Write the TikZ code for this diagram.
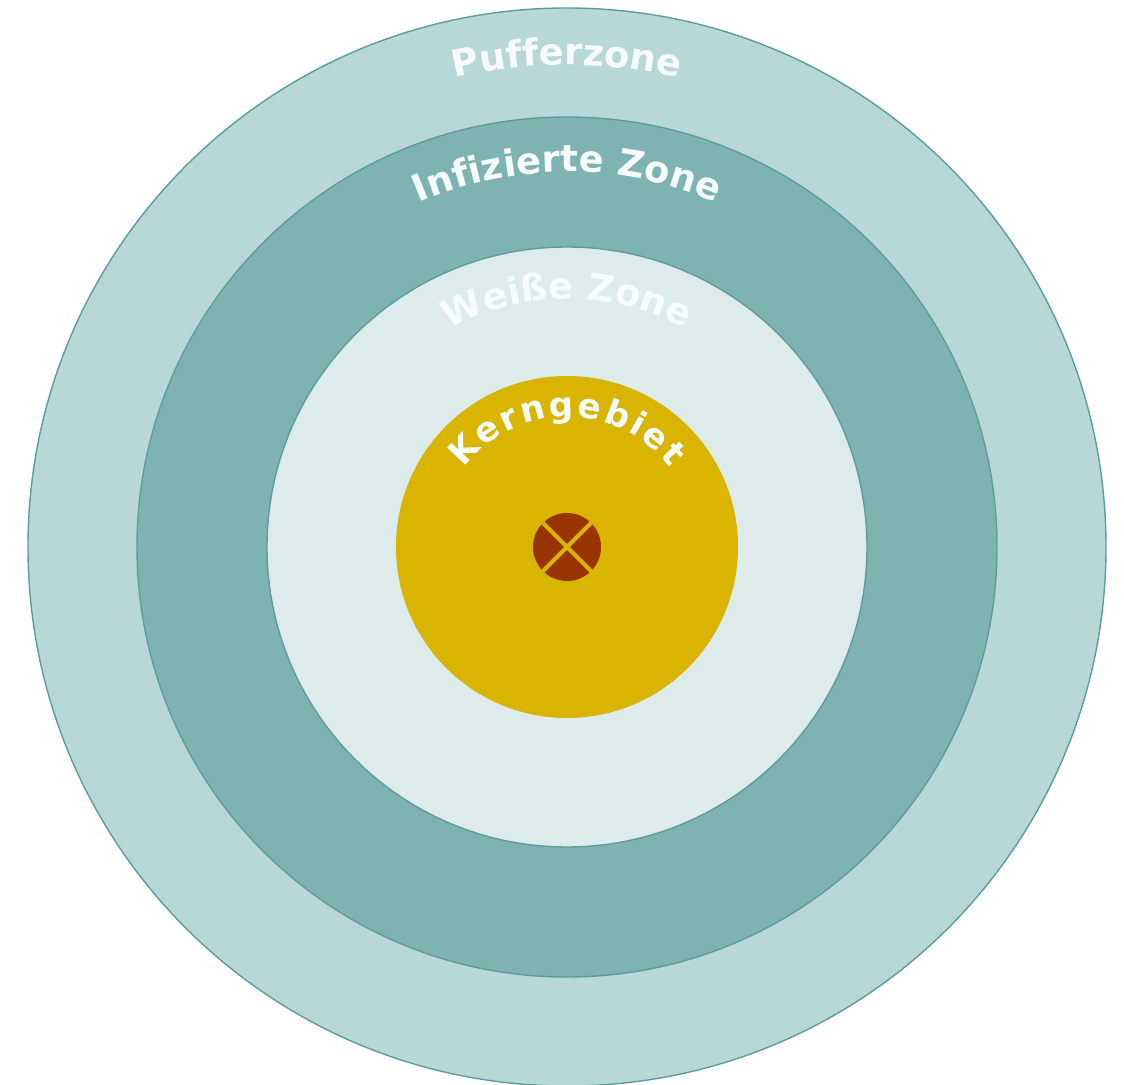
\documentclass[tikz,border=0pt]{standalone}
\usepackage{fontspec}
\setmainfont{DejaVu Sans}
\usetikzlibrary{decorations.text}
\definecolor{zonebuffer}{HTML}{B8D8D8}
\definecolor{zoneinfected}{HTML}{7FB3B1}
\definecolor{zonewhite}{HTML}{DDEBEB}
\definecolor{zonecore}{HTML}{D9B400}
\definecolor{zoneedge}{HTML}{5E9C9A}
\definecolor{zonecentre}{HTML}{993300}
\definecolor{labelwhite}{HTML}{F6FBFB}

\begin{document}
\begin{tikzpicture}[
  x=0.02cm,y=0.02cm,
  ring/.style={draw=zoneedge,line width=0.8pt},
  arclabel/.style={decorate,decoration={text along path,text align=center,
    text color=labelwhite,text={|\fontsize{21}{24}\selectfont\bfseries|#1}}},
  corechar/.style={anchor=base,inner sep=0pt,text=labelwhite,font=\fontsize{19.5}{22}\selectfont\bfseries}
]
\useasboundingbox (-567,-537) rectangle (557,547);
% zones, outside in
\filldraw[ring,fill=zonebuffer] (0,0) circle[radius=539];
\filldraw[ring,fill=zoneinfected] (0,0) circle[radius=430];
\filldraw[ring,fill=zonewhite] (0,0) circle[radius=300];
\fill[zonecore] (0,0) circle[radius=171];
% labels along the rings
\path[arclabel={Pufferzone}] (180:482) arc[start angle=180,end angle=0,radius=482];
\path[arclabel={Infizierte Zone}] (180:375) arc[start angle=180,end angle=0,radius=375];
\path[arclabel={Weiße Zone}] (180:248) arc[start angle=180,end angle=0,radius=248];
% core label, one letter at a time (tight curve)
\foreach \ch/\ang [count=\i] in {K/136.6,e/124.4,r/114.5,n/104.2,g/92.3,e/80.6,b/69.0,i/59.9,e/51.0,t/41.2}
  \node[corechar,rotate=\ang-90] (kern\i) at (\ang:130) {\ch};
% centre mark
\fill[zonecentre] (0,0) circle[radius=34];
\draw[zonecore,line width=2.3pt] (45:35) -- (225:35) (135:35) -- (315:35);
\end{tikzpicture}
\end{document}
